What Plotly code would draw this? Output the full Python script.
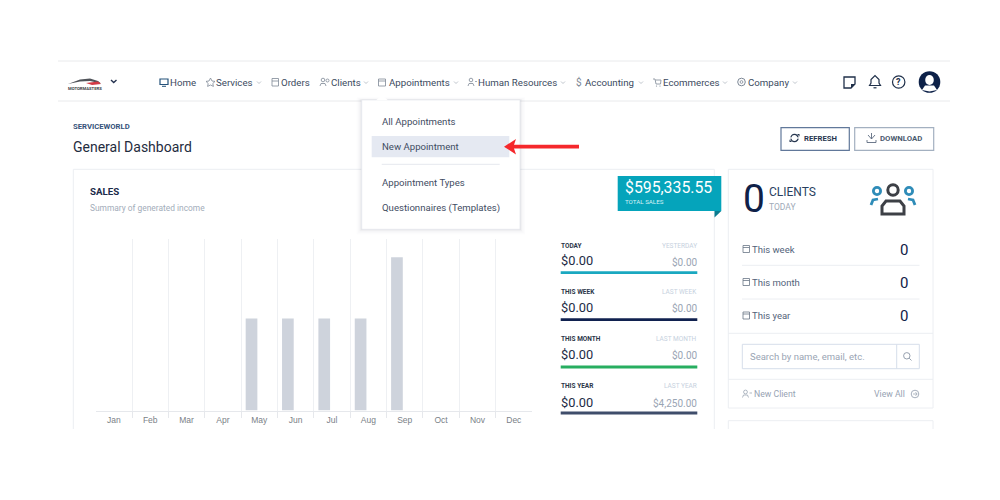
import plotly.graph_objects as go

# ---- chart data ----
months = ["Jan", "Feb", "Mar", "Apr", "May", "Jun", "Jul", "Aug", "Sep", "Oct", "Nov", "Dec"]
sales_current = [0, 0, 0, 0, 1500, 1500, 1500, 1500, 2500, 0, 0, 0]
sales_previous = [0, 0, 0, 0, 0, 0, 0, 0, 0, 0, 0, 0]

# ---- page text ----
nav_labels = ["Home", "Services", "Orders", "Clients", "Appointments", "Human Resources", "Accounting", "Ecommerces", "Company"]
menu_labels = ["All Appointments", "New Appointment", "Appointment Types", "Questionnaires (Templates)"]
stat_labels = ["TODAY", "THIS WEEK", "THIS MONTH", "THIS YEAR"]
stat_compare = ["YESTERDAY", "LAST WEEK", "LAST MONTH", "LAST YEAR"]
stat_values = ["$0.00", "$0.00", "$0.00", "$0.00"]
stat_previous = ["$0.00", "$0.00", "$0.00", "$4,250.00"]
client_rows = ["This week", "This month", "This year"]
client_counts = ["0", "0", "0"]

FONT = "Roboto"
shapes, notes = [], []


def X(v):
    return v / 1000


def Y(v):
    return 1 - v / 500


def rect(x0, y0, x1, y1, fill="rgba(0,0,0,0)", line=None, w=1, op=1):
    shapes.append(dict(type="rect", xref="paper", yref="paper", x0=X(x0), x1=X(x1), y0=Y(y0), y1=Y(y1),
                       fillcolor=fill, line=dict(color=line or "rgba(0,0,0,0)", width=w if line else 0),
                       opacity=op, layer="below"))


def seg(x0, y0, x1, y1, color, w=1):
    shapes.append(dict(type="line", xref="paper", yref="paper", x0=X(x0), x1=X(x1), y0=Y(y0), y1=Y(y1),
                       line=dict(color=color, width=w), layer="below"))


def circ(cx, cy, rx, ry=None, fill="rgba(0,0,0,0)", line=None, w=1):
    ry = ry or rx
    shapes.append(dict(type="circle", xref="paper", yref="paper", x0=X(cx - rx), x1=X(cx + rx), y0=Y(cy - ry), y1=Y(cy + ry),
                       fillcolor=fill, line=dict(color=line or "rgba(0,0,0,0)", width=w if line else 0), layer="below"))


def poly(pts, fill="rgba(0,0,0,0)", line=None, w=1, close=True):
    d = "M " + " L ".join(f"{X(a):.5f},{Y(b):.5f}" for a, b in pts) + (" Z" if close else "")
    shapes.append(dict(type="path", xref="paper", yref="paper", path=d, fillcolor=fill,
                       line=dict(color=line or "rgba(0,0,0,0)", width=w if line else 0), layer="below"))


def text(x, y, s, size, color, anchor="left", fam=FONT):
    notes.append(dict(xref="paper", yref="paper", x=X(x), y=Y(y), text=s, showarrow=False, xanchor=anchor,
                      yanchor="middle", borderpad=0, borderwidth=0,
                      font=dict(family=fam, size=size, color=color)))


NAV = "#3b4a60"
ICON = "#7d8896"
LINE = "#eceef2"

# ---- top bar ----
seg(58, 61, 950, 61, "#e9eaec", 1)
seg(58, 101, 950, 101, "#e9eaec", 1)

# logo
poly([(68, 84), (80, 79.5), (90, 78.5), (98, 81), (101, 83.5), (90, 81), (80, 81.5)], fill="#50545a")
poly([(86, 83), (98, 81.5), (101, 84), (92, 85)], fill="#d23a45")
text(68, 88.5, "<b>MOTORMASTERS</b>", 4.2, "#3a3d44")
poly([(111, 80), (113.7, 82.5), (116.5, 80)], line="#24324f", w=1.4, close=False)

# nav labels
nav_x = [170.3, 216, 281, 330.5, 388.5, 478, 585, 663, 747.7]
nav_chev = [None, 259, None, 366, 456, 563, 641, 725, 795]
for lab, x, c in zip(nav_labels, nav_x, nav_chev):
    text(x, 82, lab, 9.7, NAV)
    if c:
        poly([(c - 2, 81.5), (c, 83.5), (c + 2, 81.5)], line="#a5adb8", w=0.7, close=False)

# nav icons
rect(160, 79, 168, 84.5, line="#24527a", w=1.2)
seg(162, 86.3, 166, 86.3, "#24527a", 1)
poly([(210.5, 78), (212, 81), (215, 81.4), (212.8, 83.5), (213.4, 86.4), (210.5, 85), (207.6, 86.4), (208.2, 83.5),
      (206, 81.4), (209, 81)], line=ICON, w=0.8)
rect(272, 78.5, 278.5, 86, line=ICON, w=0.8)
seg(272, 81, 278.5, 81, ICON, 0.8)
circ(323, 80, 1.8, line=ICON, w=0.8)
circ(327.5, 80.5, 1.5, line=ICON, w=0.8)
poly([(320, 86), (321, 83.5), (325, 83.5), (326, 86)], line=ICON, w=0.8, close=False)
rect(378.5, 79, 385.5, 86, line=ICON, w=0.8)
seg(378.5, 81, 385.5, 81, ICON, 0.8)
circ(471, 80, 1.8, line=ICON, w=0.8)
poly([(468, 86), (469, 83.5), (473, 83.5), (474, 86)], line=ICON, w=0.8, close=False)
seg(475, 81.5, 477, 81.5, ICON, 0.7)
text(579, 82, "$", 10, ICON, "center")
poly([(653, 79), (655, 79), (656, 84), (660.5, 84), (661, 80), (655.5, 80)], line=ICON, w=0.8, close=False)
circ(656.5, 86, 0.6, fill=ICON)
circ(660, 86, 0.6, fill=ICON)
circ(741.5, 82, 3.8, line=ICON, w=1)
circ(741.5, 82, 1.4, line=ICON, w=0.8)

# right-hand toolbar icons
poly([(844, 77), (855, 77), (855, 84), (851, 88), (844, 88)], line="#20304a", w=1.3)
poly([(851, 88), (851, 84), (855, 84)], fill="#20304a")
poly([(869.5, 85.5), (871, 83), (871, 79.5), (875, 75.5), (879, 79.5), (879, 83), (880.5, 85.5)], line="#20304a", w=1.2)
seg(873.5, 87.8, 876.5, 87.8, "#20304a", 1.2)
circ(898.7, 82, 6.2, line="#20304a", w=1.2)
text(898.7, 82, "<b>?</b>", 9, "#20304a", "center")
circ(929.5, 82, 10.8, fill="#0d2148")
circ(929.5, 80, 4.3, 5, fill="#ffffff")
poly([(922, 90), (925, 85.5), (934, 85.5), (937, 90), (929.5, 91.5)], fill="#ffffff")

# ---- heading ----
text(73, 126.5, "<b>SERVICEWORLD</b>", 7.7, "#35527a")
text(73, 147, "General Dashboard", 14, "#1f2c3e")

# buttons
rect(781, 127.7, 849.3, 150.3, line="#61789a", w=1.2)
rect(854.7, 127.7, 933.7, 150.3, line="#a3b0c0", w=1.2)
circ(794.5, 138, 3.6, line="#26364f", w=1.3)
seg(789.5, 138, 799.5, 138, "#ffffff", 1.3)
poly([(797, 134), (799.5, 134), (799.5, 136.5)], fill="#26364f")
poly([(789.5, 139.5), (789.5, 142), (792, 142)], fill="#26364f")
text(804, 138.5, "<b>REFRESH</b>", 7.7, "#26364f")
poly([(868, 135), (871.5, 139), (875, 135)], line="#5d6b80", w=0.9, close=False)
seg(871.5, 133, 871.5, 139, "#5d6b80", 0.9)
poly([(867, 140), (867, 142.5), (876, 142.5), (876, 140)], line="#5d6b80", w=0.9, close=False)
text(880, 138.5, "<b>DOWNLOAD</b>", 7.8, "#4c5b70")

# ---- sales card ----
seg(73.3, 169.3, 714.3, 169.3, LINE, 1)
seg(73.3, 169.3, 73.3, 429, LINE, 1)
seg(714.3, 169.3, 714.3, 429, LINE, 1)
text(90, 191.5, "<b>SALES</b>", 9.7, "#1c2b4a")
text(90, 207.5, "Summary of generated income", 8.4, "#a3adba")

# ribbon
rect(617.7, 176, 721.3, 211, fill="#05a4bb")
poly([(714.5, 211), (721.3, 211), (714.5, 217.5)], fill="#0b7c90")
text(625, 187.5, "$595,335.55", 15.8, "#ffffff")
text(625, 202, "TOTAL SALES", 6.2, "#d9f2f6")

# stats
stat_ys = [245.7, 292.3, 339.3, 386]
stat_vy = [260.7, 307.3, 354.3, 402]
stat_py = [262.3, 308, 355, 402.7]
stat_by = [272.7, 319.7, 367, 413]
stat_colors = ["#1aa8c0", "#10214f", "#27ae60", "#3f4d6b"]
for i in range(4):
    text(560.7, stat_ys[i], f"<b>{stat_labels[i]}</b>", 6.5, "#2b3648")
    text(697.3, stat_ys[i], stat_compare[i], 6.5, "#c6d1de", "right")
    text(560.7, stat_vy[i], stat_values[i], 12.8, "#1d2b45")
    text(697.3, stat_py[i], stat_previous[i], 10, "#9aa5b4", "right")
    rect(560.7, stat_by[i] - 1.4, 697.3, stat_by[i] + 1.4, fill=stat_colors[i])

# ---- clients card ----
rect(728.3, 169.3, 933, 408, line=LINE, w=1)
for yy in (333.3, 379.3):
    seg(728.3, yy, 933, yy, LINE, 1)
for yy in (265.3, 299):
    seg(742, yy, 919.5, yy, LINE, 1)
seg(728.3, 420.7, 933, 420.7, LINE, 1)
seg(728.3, 420.7, 728.3, 429, LINE, 1)
seg(933, 420.7, 933, 429, LINE, 1)

text(743, 199, "0", 39, "#0f2148")
text(769, 191.5, "CLIENTS", 12, "#2a3f5f")
text(769, 207, "TODAY", 8.5, "#a0aab8")

# people icon
TEAL = "#2f8cb8"
DARK = "#3d4046"
circ(877, 191, 3.6, line=TEAL, w=2.8)
circ(909, 191, 3.6, line=TEAL, w=2.8)
circ(893, 190, 5.2, line=DARK, w=3)
poly([(871, 205), (873, 200), (878, 199)], line=TEAL, w=2.8, close=False)
poly([(915, 205), (913, 200), (908, 199)], line=TEAL, w=2.8, close=False)
poly([(882, 214), (882, 206), (886, 201), (900, 201), (904, 206), (904, 214)], line=DARK, w=3)

client_y = [249, 282, 315.5]
count_y = [249.5, 282.5, 316]
for i in range(3):
    text(752.3, client_y[i], client_rows[i], 9.5, "#53637a")
    text(904, count_y[i], client_counts[i], 15, "#0f2148", "center")
    rect(743, client_y[i] - 3.5, 749.5, client_y[i] + 3.5, line="#6a7686", w=0.8)
    seg(743, client_y[i] - 1.5, 749.5, client_y[i] - 1.5, "#6a7686", 0.8)

# search box
rect(742.3, 344.3, 919.3, 368.7, line="#d6deea", w=1)
seg(896.7, 344.3, 896.7, 368.7, "#d6deea", 1)
text(749.5, 356.3, "Search by name, email, etc.", 9.5, "#9aa5b4")
circ(906.8, 355.8, 3.2, line="#8a95a5", w=0.9)
seg(909.2, 358.2, 911.5, 360.5, "#8a95a5", 0.9)

# footer
text(754, 394, "New Client", 8.7, "#97a3b3")
circ(745.5, 392, 1.9, line="#8f9bab", w=0.7)
poly([(742.5, 397.5), (743.5, 395), (747.5, 395), (748.5, 397.5)], line="#8f9bab", w=0.7, close=False)
seg(749.5, 393, 752, 393, "#8f9bab", 0.7)
text(905.3, 394, "View All", 8.7, "#97a3b3", "right")
circ(915, 394, 3.8, line="#8f9bab", w=0.8)
seg(913, 394, 917, 394, "#8f9bab", 0.7)
poly([(915.5, 392.2), (917.2, 394), (915.5, 395.8)], line="#8f9bab", w=0.7, close=False)

# ---- dropdown ----
for grow, op in ((5, 0.015), (3.5, 0.025), (2, 0.04), (1, 0.06)):
    rect(361.7 - grow, 100 - grow / 2, 520 + grow, 229.3 + grow, fill="#4a5568", op=op)
rect(361.7, 100, 520, 229.3, fill="#ffffff", line="#e4e7ec", w=0.7)
poly([(376, 100.3), (382, 95.5), (388, 100.3)], fill="#ffffff")
rect(371.7, 136, 509.3, 157.3, fill="#e5e9f2")
seg(381.7, 164.3, 499.7, 164.3, "#e5e8ee", 1)
for lab, yy in zip(menu_labels, (121, 146.5, 182.5, 207.5)):
    text(381.5, yy, lab, 9.6, "#3f4d63")

# red arrow
poly([(504, 146.7), (516, 139), (514, 144.8), (579, 144.8), (579, 148.4), (514, 148.4), (516, 154.5)], fill="#f5282c")

# ---- figure ----
positions = list(range(len(months)))
boundaries = [p + 0.5 for p in positions[:-1]]

fig = go.Figure()
fig.add_trace(go.Bar(name="Current", x=positions, y=sales_current, marker=dict(color="#ced3dc", line=dict(width=0))))
fig.add_trace(go.Bar(name="Previous", x=positions, y=sales_previous, marker=dict(color="#ced3dc", line=dict(width=0))))

fig.update_layout(
    width=1000, height=500, autosize=False,
    margin=dict(l=0, r=0, t=0, b=0),
    paper_bgcolor="#ffffff", plot_bgcolor="rgba(0,0,0,0)",
    showlegend=False, hovermode=False,
    barmode="group", bargap=0.143, bargroupgap=0.25,
    shapes=shapes, annotations=notes,
    xaxis=dict(domain=[0.0957, 0.532], range=[-0.5, len(months) - 0.5], tickmode="array", tickvals=positions,
               ticktext=months, ticks="outside", ticklen=1, tickcolor="rgba(0,0,0,0)", showgrid=False,
               minor=dict(tickmode="array", tickvals=boundaries, ticks="outside", ticklen=6, tickcolor="#e6e8ec",
                          tickwidth=1, showgrid=True, gridcolor="#eef0f3", gridwidth=1),
               showline=True, linecolor="#e6e8ec", linewidth=1, zeroline=False, fixedrange=True,
               tickfont=dict(family="Liberation Sans", size=8.5, color="#7a7f87")),
    yaxis=dict(domain=[1 - 410.5 / 500, 1 - 239 / 500], range=[0, 2796], showgrid=False, showticklabels=False,
               ticks="", zeroline=False, showline=False, fixedrange=True),
)

fig.write_html("out.html", config={"displayModeBar": False},
               post_script="document.body.style.margin='0';")
